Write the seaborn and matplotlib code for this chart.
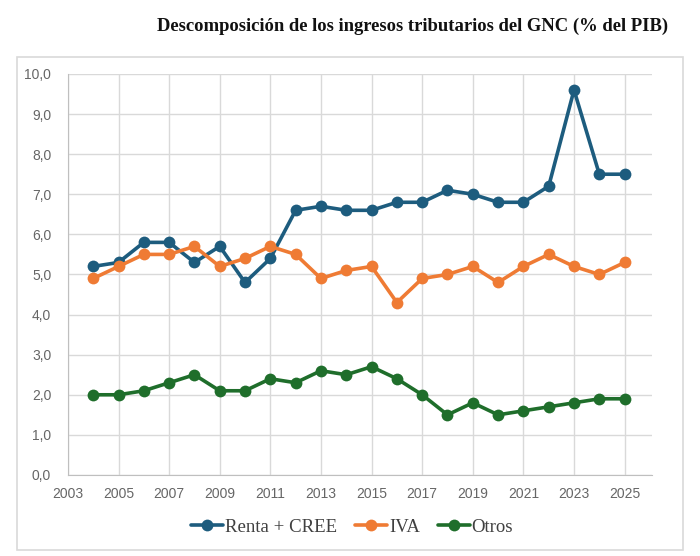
import pandas as pd
import numpy as np
import matplotlib
matplotlib.use('Agg')
import matplotlib.pyplot as plt
import matplotlib.ticker as mticker
from matplotlib.patches import Rectangle
import seaborn as sns

# Data
years = list(range(2004, 2026))
renta_cree = [5.2, 5.3, 5.8, 5.8, 5.3, 5.7, 4.8, 5.4, 6.6, 6.7, 6.6, 6.6, 6.8, 6.8, 7.1, 7.0, 6.8, 6.8, 7.2, 9.6, 7.5, 7.5]
iva = [4.9, 5.2, 5.5, 5.5, 5.7, 5.2, 5.4, 5.7, 5.5, 4.9, 5.1, 5.2, 4.3, 4.9, 5.0, 5.2, 4.8, 5.2, 5.5, 5.2, 5.0, 5.3]
otros = [2.0, 2.0, 2.1, 2.3, 2.5, 2.1, 2.1, 2.4, 2.3, 2.6, 2.5, 2.7, 2.4, 2.0, 1.5, 1.8, 1.5, 1.6, 1.7, 1.8, 1.9, 1.9]
series_names = ['Renta + CREE', 'IVA', 'Otros']
colors = ['#1d5c7e', '#ef7b34', '#1f6e2b']

df = pd.DataFrame({
    'Año': years * 3,
    'Valor': renta_cree + iva + otros,
    'Serie': [s for s in series_names for _ in years],
})

sns.set_style('white')
fig = plt.figure(figsize=(7, 5.56), dpi=100)
ax = fig.add_axes([0.097, 0.1457, 0.834, 0.7213])

# outer frame
fig.patches.append(Rectangle((17 / 700, 1 - 550 / 556), 666 / 700, 493 / 556,
                             transform=fig.transFigure, fill=False,
                             edgecolor='#d9d9d9', linewidth=1.2, zorder=0))

sns.lineplot(data=df, x='Año', y='Valor', hue='Serie', hue_order=series_names,
             palette=colors, marker='o', markersize=8.5, markeredgewidth=0,
             linewidth=2.6, ax=ax, legend=False)

ax.set_xlim(2003, 2026.07)
ax.set_ylim(0, 10)
ax.set_xticks(range(2003, 2026, 2))
ax.set_yticks(np.arange(0, 10.01, 1))
ax.yaxis.set_major_formatter(mticker.FuncFormatter(lambda v, p: f'{v:.1f}'.replace('.', ',')))
ax.grid(True, color='#d9d9d9', linewidth=1)
ax.set_axisbelow(True)
for s in ['top', 'right']:
    ax.spines[s].set_visible(False)
for s in ['left', 'bottom']:
    ax.spines[s].set_color('#bfbfbf')
ax.tick_params(axis='both', length=0, labelsize=10, labelcolor='#666666')
ax.tick_params(axis='x', pad=9)
ax.tick_params(axis='y', pad=12)
for lab in ax.get_xticklabels() + ax.get_yticklabels():
    lab.set_fontfamily('Liberation Sans')
ax.set_xlabel('')
ax.set_ylabel('')

fig.text(0.589, 0.953, 'Descomposición de los ingresos tributarios del GNC (% del PIB)',
         ha='center', va='center', fontsize=13.4, fontweight='bold',
         family='Liberation Serif', color='#111111')

handles = [plt.Line2D([], [], color=c, marker='o', markersize=8.5, markeredgewidth=0, linewidth=2.6)
           for c in colors]
fig.legend(handles, series_names, loc='center', bbox_to_anchor=(352 / 700, 1 - 527 / 556),
           ncol=3, frameon=False, handlelength=1.7, handletextpad=0.12, columnspacing=0.95,
           prop={'family': 'Liberation Serif', 'size': 13.5}, labelcolor='#404040')

fig.savefig('out.png', dpi=100)
